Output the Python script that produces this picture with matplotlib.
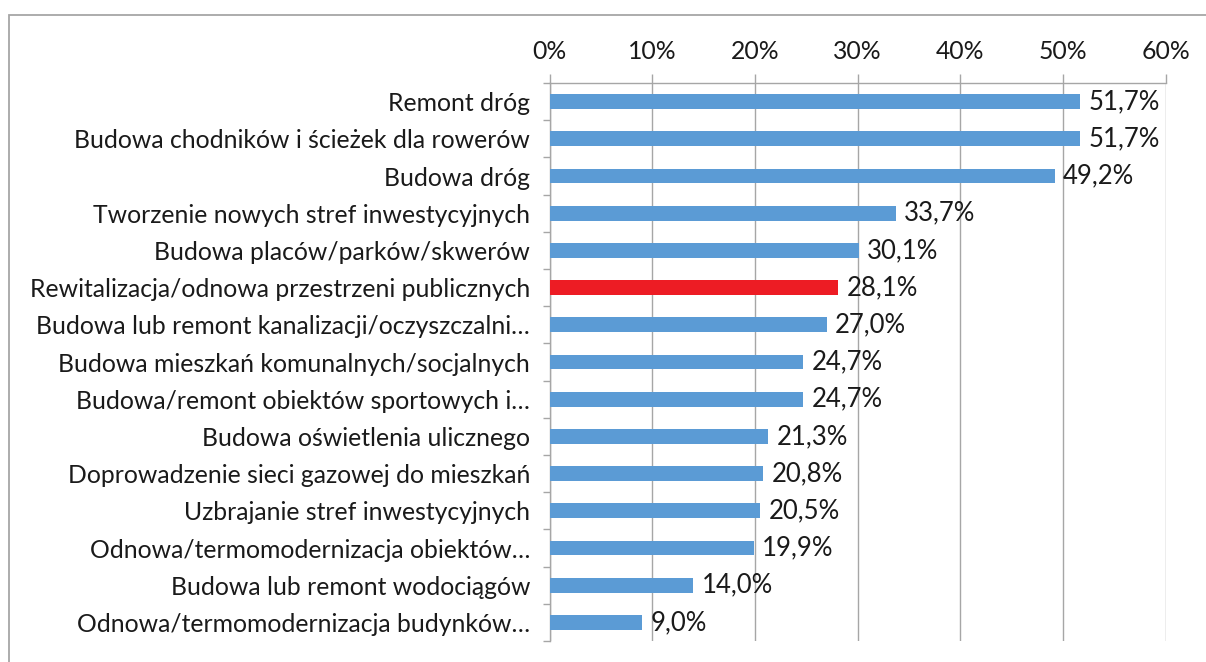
import matplotlib.pyplot as plt
import matplotlib.ticker as ticker
from matplotlib.patches import Rectangle
import numpy as np

categories = [
    'Remont dróg',
    'Budowa chodników i ścieżek dla rowerów',
    'Budowa dróg',
    'Tworzenie nowych stref inwestycyjnych',
    'Budowa placów/parków/skwerów',
    'Rewitalizacja/odnowa przestrzeni publicznych',
    'Budowa lub remont kanalizacji/oczyszczalni…',
    'Budowa mieszkań komunalnych/socjalnych',
    'Budowa/remont obiektów sportowych i…',
    'Budowa oświetlenia ulicznego',
    'Doprowadzenie sieci gazowej do mieszkań',
    'Uzbrajanie stref inwestycyjnych',
    'Odnowa/termomodernizacja obiektów…',
    'Budowa lub remont wodociągów',
    'Odnowa/termomodernizacja budynków…',
]
values = [51.7, 51.7, 49.2, 33.7, 30.1, 28.1, 27.0, 24.7, 24.7, 21.3, 20.8, 20.5, 19.9, 14.0, 9.0]
highlight = 'Rewitalizacja/odnowa przestrzeni publicznych'
xticks = [0, 10, 20, 30, 40, 50, 60]

blue = '#5B9BD5'
red = '#ED1C24'
grey = '#A6A6A6'
txt = '#1a1a1a'

plt.rcParams['font.family'] = ['Lato', 'DejaVu Sans']
font = 17.8

fig = plt.figure(figsize=(12.06, 6.62), dpi=100)
ax = fig.add_axes([549.5/1206, 1-641/662, 616.2/1206, 558/662])

# frame around the whole chart
fig.patches.append(Rectangle((9/1206, -0.05), 1.2, 1.05-15/662, transform=fig.transFigure,
                             fill=False, edgecolor=grey, lw=1.3, zorder=0))

y = np.arange(len(categories))
colors = [red if c == highlight else blue for c in categories]
ax.barh(y, values, height=0.4, color=colors, zorder=3)

for yi, v in zip(y, values):
    ax.annotate(('%.1f%%' % v).replace('.', ','), (v, yi), xytext=(6, 0),
                textcoords='offset points', va='center', ha='left',
                fontsize=18.5, color=txt)

ax.set_xlim(0, 60)
ax.set_ylim(len(categories) - 0.5, -0.5)
ax.set_xticks(xticks)
ax.xaxis.set_major_formatter(ticker.FuncFormatter(lambda x, pos: '%d%%' % x))
ax.xaxis.tick_top()
ax.tick_params(axis='x', which='major', direction='out', length=6.5, width=1,
               color=grey, labelsize=font, labelcolor=txt, pad=8)
ax.grid(axis='x', color=grey, lw=1, zorder=0)

ax.set_yticks(y)
ax.set_yticklabels(categories)
ax.yaxis.set_minor_locator(ticker.FixedLocator(np.arange(-0.5, len(categories), 1)))
ax.tick_params(axis='y', which='major', length=0, labelsize=font, labelcolor=txt, pad=14)
ax.tick_params(axis='y', which='minor', direction='out', length=5, width=1, color=grey)

for s in ['right', 'bottom']:
    ax.spines[s].set_visible(False)
for s in ['left', 'top']:
    ax.spines[s].set_color(grey)
    ax.spines[s].set_linewidth(1)

plt.savefig('out.png', dpi=100)
